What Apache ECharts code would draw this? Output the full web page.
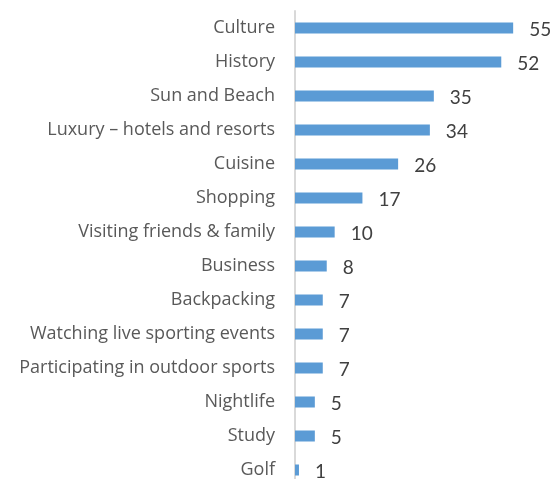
<!DOCTYPE html>
<html>
<head>
<meta charset="utf-8">
<script src="https://cdn.jsdelivr.net/npm/echarts@6/dist/echarts.min.js"></script>
<style>html,body{margin:0;padding:0;background:#fff}#c{width:556px;height:479px}</style>
</head>
<body>
<div id="c"></div>
<script>
const categories = ["Culture","History","Sun and Beach","Luxury – hotels and resorts","Cuisine","Shopping","Visiting friends & family","Business","Backpacking","Watching live sporting events","Participating in outdoor sports","Nightlife","Study","Golf"];
const values = [55,52,35,34,26,17,10,8,7,7,7,5,5,1];

const chart = echarts.init(document.getElementById('c'));
chart.setOption({
  animation: false,
  backgroundColor: '#fff',
  grid: {left: 295, right: 23, top: 11, height: 476, containLabel: false, outerBoundsMode: 'none'},
  xAxis: {type: 'value', min: 0, max: 60, show: false},
  yAxis: {
    type: 'category', data: categories, inverse: true,
    axisLine: {show: true, lineStyle: {color: '#d9d9d9', width: 2}},
    axisTick: {show: false},
    axisLabel: {color: '#595959', fontSize: 18, fontFamily: 'Open Sans', margin: 20}
  },
  series: [{
    type: 'bar', data: values, barWidth: 11,
    itemStyle: {color: '#5b9bd5'},
    label: {show: true, position: 'right', distance: 16, color: '#404040', fontSize: 19, fontFamily: 'Lato', offset: [0, 2]}
  }]
});
</script>
</body>
</html>
